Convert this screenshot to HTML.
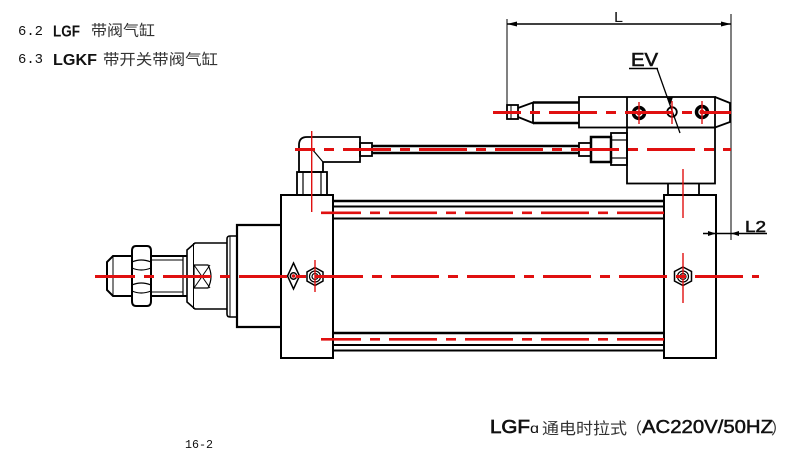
<!DOCTYPE html>
<html><head><meta charset="utf-8"><style>
html,body{margin:0;padding:0;background:#fff;}
svg{display:block;}
</style></head><body>
<svg width="807" height="457" viewBox="0 0 807 457" xmlns="http://www.w3.org/2000/svg">
<rect width="807" height="457" fill="#fff"/>

<!-- Header text -->
<g fill="#111">
<text x="18" y="35" font-family="Liberation Mono, monospace" font-size="14" textLength="25" lengthAdjust="spacingAndGlyphs">6.2</text>
<text x="53" y="36.5" font-family="Liberation Sans, sans-serif" font-weight="bold" font-size="16" textLength="27" lengthAdjust="spacingAndGlyphs">LGF</text>
<text x="91" y="35.5" font-family="Liberation Sans, 'Noto Sans CJK SC', sans-serif" font-size="15" textLength="64" lengthAdjust="spacingAndGlyphs" fill="#333">带阀气缸</text>
<text x="18" y="63" font-family="Liberation Mono, monospace" font-size="14" textLength="25" lengthAdjust="spacingAndGlyphs">6.3</text>
<text x="53" y="65" font-family="Liberation Sans, sans-serif" font-weight="bold" font-size="16" textLength="44" lengthAdjust="spacingAndGlyphs">LGKF</text>
<text x="103" y="64.5" font-family="Liberation Sans, 'Noto Sans CJK SC', sans-serif" font-size="15" textLength="115" lengthAdjust="spacingAndGlyphs" fill="#333">带开关带阀气缸</text>
</g>

<!-- Bottom text -->
<g fill="#111">
<text x="490" y="433" font-family="Liberation Sans, sans-serif" font-size="18" stroke="#111" stroke-width="0.7" textLength="40" lengthAdjust="spacingAndGlyphs">LGF</text>
<text x="530" y="433" font-family="Liberation Sans, sans-serif" font-size="14" textLength="9" lengthAdjust="spacingAndGlyphs">ɑ</text>
<text x="542" y="434" font-family="Liberation Sans, 'Noto Sans CJK SC', sans-serif" font-size="16" textLength="85" lengthAdjust="spacingAndGlyphs" fill="#333">通电时拉式</text>
<text x="626" y="434" font-family="'Noto Sans CJK SC', sans-serif" font-size="16" fill="#333">（</text>
<text x="642" y="433" font-family="Liberation Sans, sans-serif" font-size="18" stroke="#111" stroke-width="0.5" textLength="131" lengthAdjust="spacingAndGlyphs">AC220V/50HZ</text>
<text x="771" y="434" font-family="'Noto Sans CJK SC', sans-serif" font-size="16" fill="#333">）</text>
<text x="185" y="448" font-family="Liberation Mono, monospace" font-size="12" textLength="28" lengthAdjust="spacingAndGlyphs">16-2</text>
</g>

<!-- Dimension L -->
<g stroke="#000" stroke-width="1" fill="none">
<line x1="507" y1="19" x2="507" y2="106"/>
<line x1="731" y1="14" x2="731" y2="240"/>
<line x1="507" y1="24" x2="731" y2="24" stroke-width="1.5"/>
</g>
<polygon points="507,24 517,21.5 517,26.5" fill="#000"/>
<polygon points="731,24 721,21.5 721,26.5" fill="#000"/>
<text x="614" y="22" font-family="Liberation Sans, sans-serif" font-size="15" textLength="9" lengthAdjust="spacingAndGlyphs" fill="#111">L</text>

<!-- EV label -->
<text x="631" y="66" font-family="Liberation Sans, sans-serif" font-size="18" stroke="#111" stroke-width="0.6" textLength="27" lengthAdjust="spacingAndGlyphs" fill="#111">EV</text>
<line x1="629" y1="68.5" x2="658" y2="68.5" stroke="#000" stroke-width="1.5"/>
<line x1="657" y1="68.5" x2="680" y2="133" stroke="#000" stroke-width="1.3"/>
<polygon points="670,106 667,98 673,97" fill="#000"/>

<!-- Dimension L2 -->
<line x1="703" y1="233.5" x2="767" y2="233.5" stroke="#000" stroke-width="1.5"/>
<polygon points="716,233.5 708,231 708,236" fill="#000"/>
<polygon points="731,233.5 739,231 739,236" fill="#000"/>
<text x="745" y="232" font-family="Liberation Sans, sans-serif" font-size="16" stroke="#111" stroke-width="0.6" textLength="21" lengthAdjust="spacingAndGlyphs" fill="#111">L2</text>

<!-- Valve / sensor assembly -->
<g stroke="#000" fill="none" stroke-width="1.8">
<rect x="507" y="105" width="11" height="14"/>
<line x1="511" y1="105" x2="511" y2="119" stroke-width="1"/>
<polyline points="518,108 533,102.5 533,123 518,117"/>
<line x1="533" y1="102.5" x2="579" y2="102.5" stroke-width="2.5"/>
<line x1="533" y1="123" x2="579" y2="123" stroke-width="2.5"/>
<rect x="579" y="97" width="136" height="30.5"/>
<line x1="627" y1="97" x2="627" y2="127.5"/>
<polyline points="715,97 730,103 730,122 715,127.5"/>
<rect x="627" y="127.5" width="88" height="56"/>
<rect x="611" y="133" width="16" height="32"/>
<line x1="611" y1="140" x2="627" y2="140" stroke-width="1.2"/>
<line x1="611" y1="158" x2="627" y2="158" stroke-width="1.2"/>
<rect x="591" y="137" width="20" height="25" stroke-width="2.5"/>
<rect x="579" y="143" width="12" height="13"/>
<line x1="668" y1="183.5" x2="668" y2="195"/>
<line x1="699" y1="183.5" x2="699" y2="195"/>
</g>
<circle cx="639" cy="113" r="5.5" fill="none" stroke="#000" stroke-width="3.5"/>
<circle cx="672" cy="112" r="4.8" fill="none" stroke="#000" stroke-width="1.8"/>
<circle cx="702" cy="112" r="5.5" fill="none" stroke="#000" stroke-width="3.5"/>

<!-- Tube -->
<line x1="372" y1="146" x2="579" y2="146" stroke="#000" stroke-width="2.5"/>
<line x1="372" y1="153" x2="579" y2="153" stroke="#000" stroke-width="2.5"/>

<!-- Elbow -->
<g stroke="#000" fill="none" stroke-width="1.8">
<path d="M299 172 L299 145 Q299 137 307 137 L360 137 L360 162 L323 162 L323 172 Z"/>
<line x1="312" y1="149" x2="323" y2="162" stroke-width="1.2"/>
<rect x="360" y="143" width="12" height="13"/>
<rect x="297" y="172" width="30" height="23"/>
<line x1="303" y1="172" x2="303" y2="195" stroke-width="1.2"/>
<line x1="321" y1="172" x2="321" y2="195" stroke-width="1.2"/>
</g>

<!-- Cylinder caps -->
<g stroke="#000" fill="none" stroke-width="2">
<rect x="281" y="195" width="52" height="163"/>
<rect x="664" y="195" width="52" height="163"/>
</g>
<!-- Tie rods -->
<g stroke="#000">
<line x1="333" y1="201" x2="664" y2="201" stroke-width="2.6"/>
<line x1="333" y1="206.5" x2="664" y2="206.5" stroke-width="2"/>
<line x1="333" y1="218.5" x2="664" y2="218.5" stroke-width="2"/>
<line x1="333" y1="333" x2="664" y2="333" stroke-width="2.6"/>
<line x1="333" y1="345" x2="664" y2="345" stroke-width="2"/>
<line x1="333" y1="350.5" x2="664" y2="350.5" stroke-width="2"/>
</g>

<!-- Left cap details -->
<polygon points="293.5,263 299.5,276 293.5,289 287.5,276" fill="none" stroke="#000" stroke-width="1.5"/>
<circle cx="293.5" cy="276" r="3.2" fill="none" stroke="#000" stroke-width="1.5"/>
<polygon points="315,267.5 323,272 323,281 315,285.5 307,281 307,272" fill="none" stroke="#000" stroke-width="1.5"/>
<circle cx="315" cy="276.5" r="5.5" fill="none" stroke="#000" stroke-width="1.2"/>
<circle cx="315" cy="276.5" r="3" fill="none" stroke="#000" stroke-width="1.2"/>
<!-- Right cap hex -->
<polygon points="683,267 691.5,271.5 691.5,281 683,285.5 674.5,281 674.5,271.5" fill="none" stroke="#000" stroke-width="1.5"/>
<circle cx="683" cy="276.5" r="5.5" fill="none" stroke="#000" stroke-width="1.2"/>
<circle cx="683" cy="276.5" r="3" fill="none" stroke="#000" stroke-width="1.2"/>

<!-- Front components -->
<g stroke="#000" fill="none" stroke-width="1.6">
<path d="M281 225 L237 225 L237 327 L281 327" stroke-width="2.2"/>
<path d="M237 236 L230 236 Q227 236 227 239 L227 314 Q227 317 230 317 L237 317"/>
<line x1="230" y1="236" x2="230" y2="317" stroke-width="1"/>
<path d="M227 243 L195 243 L187 250 L187 302 L195 309 L227 309"/>
<line x1="193.5" y1="243" x2="193.5" y2="309" stroke-width="1"/>
<path d="M194 265 L208 265 Q214 276.5 208 288 L194 288 Z" stroke-width="1.2"/>
<line x1="194" y1="265" x2="210" y2="288" stroke-width="1"/>
<line x1="194" y1="288" x2="210" y2="265" stroke-width="1"/>
<line x1="183" y1="256" x2="183" y2="296" stroke-width="1.2"/>
<line x1="150" y1="256" x2="187" y2="256" stroke-width="2"/>
<line x1="150" y1="260" x2="183" y2="260" stroke-width="1"/>
<line x1="150" y1="292" x2="183" y2="292" stroke-width="1"/>
<line x1="150" y1="296" x2="187" y2="296" stroke-width="2"/>
<path d="M136 246 L147 246 Q151 246 151 251 L151 301 Q151 306 147 306 L136 306 Q132 306 132 301 L132 251 Q132 246 136 246 Z" stroke-width="2"/>
<path d="M132 262 Q141 258 151 262" stroke-width="1.2"/>
<path d="M132 268 Q141 272 151 268" stroke-width="1.2"/>
<path d="M132 285 Q141 281 151 285" stroke-width="1.2"/>
<path d="M132 291 Q141 295 151 291" stroke-width="1.2"/>
<path d="M132 256 L113 256 L107 262 L107 290 L113 296 L132 296" stroke-width="2"/>
<line x1="113" y1="256" x2="113" y2="296" stroke-width="1"/>
</g>

<!-- Red center lines -->
<g stroke="#e01010" fill="none" stroke-dasharray="48 9 10 9">
<line x1="95" y1="276.5" x2="759" y2="276.5" stroke-width="3" stroke-dashoffset="8"/>
<line x1="493" y1="112.5" x2="731" y2="112.5" stroke-width="3" stroke-dashoffset="20"/>
<line x1="295" y1="149.5" x2="731" y2="149.5" stroke-width="3" stroke-dashoffset="28"/>
<line x1="321" y1="212.8" x2="664" y2="212.8" stroke-width="2.6" stroke-dashoffset="8"/>
<line x1="321" y1="339.3" x2="664" y2="339.3" stroke-width="2.6" stroke-dashoffset="8"/>
</g>
<g stroke="#e01010" fill="none" stroke-width="1.4">
<line x1="311.7" y1="131" x2="311.7" y2="212"/>
<line x1="683" y1="169" x2="683" y2="218"/>
<line x1="683" y1="253" x2="683" y2="303"/>
<line x1="315" y1="260" x2="315" y2="292"/>
<line x1="639" y1="102" x2="639" y2="124"/>
<line x1="672" y1="101" x2="672" y2="124"/>
<line x1="702" y1="101" x2="702" y2="124"/>
</g>
<circle cx="639" cy="113" r="2.5" fill="#e01010"/>
<circle cx="702" cy="112" r="2.5" fill="#e01010"/>
<circle cx="293.5" cy="276" r="1.8" fill="#e01010"/>
</svg>
</body></html>
